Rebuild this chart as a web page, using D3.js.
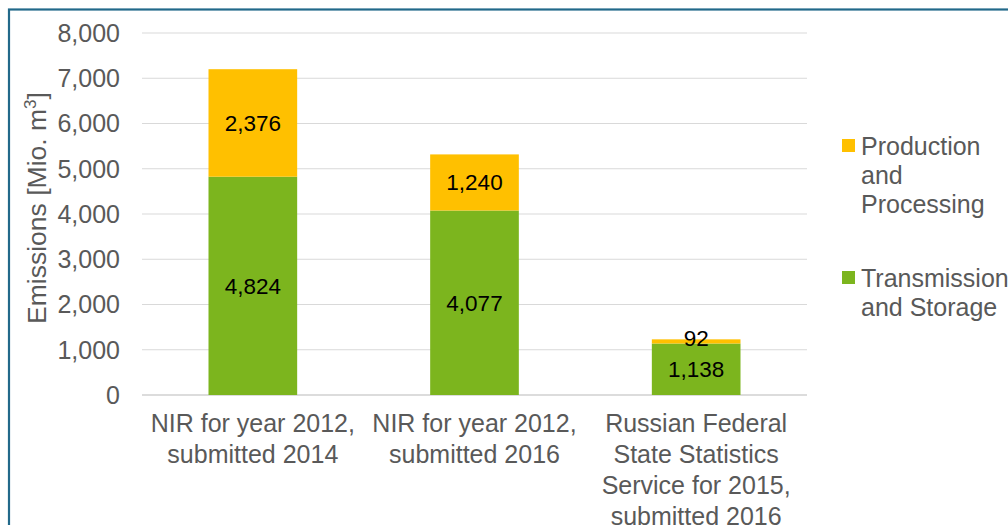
<!DOCTYPE html>
<html>
<head>
<meta charset="utf-8">
<script src="https://cdn.jsdelivr.net/npm/d3@7"></script>
<style>
  body { margin: 0; background: #fff; }
  svg text { font-family: "Liberation Sans", Arial, sans-serif; }
</style>
</head>
<body>
<div id="chart"></div>
<script>
let width = 1008, height = 525;

let categories = [
  ['NIR for year 2012,', 'submitted 2014'],
  ['NIR for year 2012,', 'submitted 2016'],
  ['Russian Federal', 'State Statistics', 'Service for 2015,', 'submitted 2016']
];
let transmission = [4824, 4077, 1138];
let production = [2376, 1240, 92];
let seriesNames = [['Production', 'and', 'Processing'], ['Transmission', 'and Storage']];
let seriesColors = ['#FFC000', '#7CB51E'];
let yTicks = [0, 1000, 2000, 3000, 4000, 5000, 6000, 7000, 8000];

let svg = d3.select('#chart').append('svg')
  .attr('width', width).attr('height', height);

// frame
svg.append('rect')
  .attr('x', 9).attr('y', 9.5)
  .attr('width', 1100).attr('height', 600)
  .attr('fill', 'none')
  .attr('stroke', '#22698a')
  .attr('stroke-width', 2.2);

let x = d3.scaleBand()
  .domain(d3.range(categories.length))
  .range([142, 807])
  .paddingInner(0.6)
  .paddingOuter(0.3);

let y = d3.scaleLinear().domain([0, 8000]).range([395, 33]);

// gridlines
svg.append('g').selectAll('line')
  .data(yTicks)
  .enter().append('line')
  .attr('x1', 142).attr('x2', 807)
  .attr('y1', d => y(d)).attr('y2', d => y(d))
  .style('stroke', d => d == 0 ? '#d0d0d0' : '#d9d9d9')
  .style('stroke-width', d => d == 0 ? 1.5 : 1);

// tick labels
svg.append('g').selectAll('text')
  .data(yTicks)
  .enter().append('text')
  .attr('x', 120)
  .attr('y', d => y(d))
  .attr('dy', '0.35em')
  .attr('text-anchor', 'end')
  .style('font-size', '25px')
  .style('fill', '#595959')
  .text(d => d3.format(',')(d));

// axis title
svg.append('text')
  .attr('transform', 'translate(46,208) rotate(-90)')
  .attr('text-anchor', 'middle')
  .style('font-size', '26.5px')
  .style('fill', '#595959')
  .html('Emissions [Mio. m<tspan dy="-10" style="font-size:17px">3</tspan><tspan dy="10">]</tspan>');

// bars
let stacks = categories.map((c, i) => ({
  i: i,
  segs: [
    { v: transmission[i], y0: 0, y1: transmission[i], color: seriesColors[1] },
    { v: production[i], y0: transmission[i], y1: transmission[i] + production[i], color: seriesColors[0] }
  ]
}));

let groups = svg.append('g').selectAll('g')
  .data(stacks)
  .enter().append('g');

groups.selectAll('rect')
  .data(d => d.segs.map(s => Object.assign({ i: d.i }, s)))
  .enter().append('rect')
  .attr('x', d => x(d.i))
  .attr('width', x.bandwidth())
  .attr('y', d => y(d.y1))
  .attr('height', d => y(d.y0) - y(d.y1))
  .style('fill', d => d.color);

// data labels
groups.selectAll('text')
  .data(d => d.segs.map(s => Object.assign({ i: d.i }, s)))
  .enter().append('text')
  .attr('x', d => x(d.i) + x.bandwidth() / 2)
  .attr('y', d => {
    if (d.v < 300) return y(d.y1) - 1;
    let my = (y(d.y0) + y(d.y1)) / 2;
    return my;
  })
  .attr('dy', '0.35em')
  .attr('text-anchor', 'middle')
  .style('font-size', '22.5px')
  .style('fill', '#000')
  .text(d => d3.format(',')(d.v));

// category labels
let cat = svg.append('g').selectAll('text')
  .data(categories)
  .enter().append('text')
  .attr('x', (d, i) => x(i) + x.bandwidth() / 2)
  .attr('y', 432)
  .attr('text-anchor', 'middle')
  .style('font-size', '25px')
  .style('fill', '#595959');
cat.selectAll('tspan')
  .data(d => d)
  .enter().append('tspan')
  .attr('x', function() { return this.parentNode.getAttribute('x'); })
  .attr('dy', (d, j) => j == 0 ? 0 : 31)
  .text(d => d);

// legend
let legendY = [146, 278];
let legend = svg.append('g').selectAll('g')
  .data(seriesNames)
  .enter().append('g')
  .attr('transform', (d, i) => 'translate(842,' + legendY[i] + ')');
legend.append('rect')
  .attr('x', 0).attr('y', -7)
  .attr('width', 13).attr('height', 13)
  .style('fill', (d, i) => seriesColors[i]);
let lt = legend.append('text')
  .attr('x', 19).attr('y', 0)
  .style('font-size', '25px')
  .style('fill', '#595959');
lt.selectAll('tspan')
  .data(d => d)
  .enter().append('tspan')
  .attr('x', 19)
  .attr('dy', (d, j) => j == 0 ? '0.35em' : 29)
  .text(d => d);
</script>
</body>
</html>
